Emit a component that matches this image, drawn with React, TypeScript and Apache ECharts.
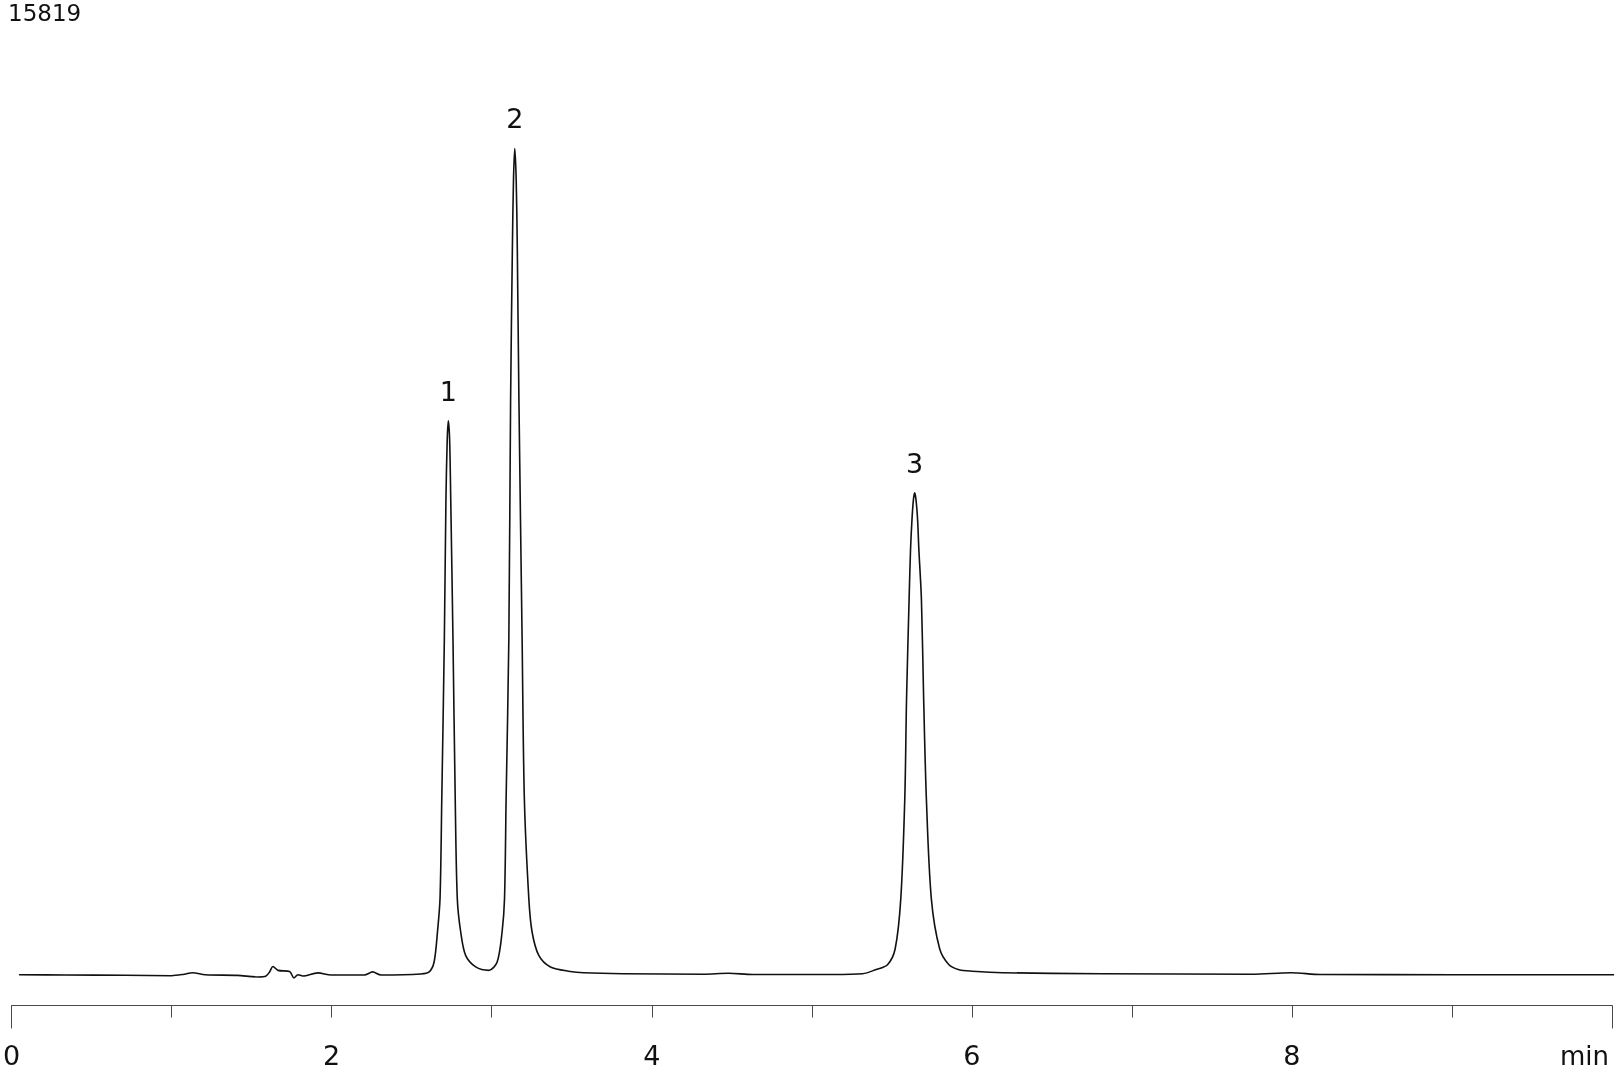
import React, { useRef, useEffect } from 'react';
import * as echarts from 'echarts';

// retention time (min) and detector signal
const times = [
  0.05, 0.34, 0.71, 1.0, 1.08, 1.13, 1.21, 1.41, 1.54, 1.59, 1.613, 1.633, 1.665, 1.737, 1.764, 1.789, 1.82, 1.913, 1.997,
  2.204, 2.256, 2.308, 2.557, 2.609, 2.64, 2.661, 2.677, 2.688, 2.704, 2.714, 2.722, 2.729, 2.737, 2.744, 2.758, 2.772,
  2.785, 2.806, 2.837, 2.9, 2.982, 3.034, 3.065, 3.08, 3.09, 3.107, 3.118, 3.129, 3.136, 3.144, 3.153, 3.16, 3.17, 3.19,
  3.204, 3.232, 3.252, 3.294, 3.367, 3.491, 3.574, 3.82, 4.32, 4.48, 4.63, 5.13, 5.318, 5.399, 5.473, 5.521, 5.556,
  5.581, 5.592, 5.608, 5.617, 5.626, 5.635, 5.643, 5.651, 5.661, 5.669, 5.685, 5.699, 5.716, 5.747, 5.799, 5.857, 5.92,
  6.003, 6.19, 6.81, 7.75, 7.995, 8.18, 9.0, 10.04,
];
const signal = [
  0, -5, -10, -16, 8, 32, 0, -11, -37, -21, 49, 134, 70, 53, -53, 0, -21, 29, -5,
  -5, 45, -5, 11, 45, 206, 692, 1231, 2851, 5443, 7711, 8683, 8991, 8683, 7711, 5443, 2851,
  1231, 697, 313, 126, 70, 206, 697, 1231, 2851, 5443, 9331, 11761, 12895, 13409, 12895, 11761, 9331, 5443,
  2851, 1231, 697, 313, 126, 53, 32, 16, 8, 24, 3, 3, 16, 81, 162, 421, 1231,
  2851, 4471, 6091, 6901, 7387, 7711, 7819, 7711, 7387, 6901, 6091, 4471, 2851, 1231, 421, 162, 81,
  57, 32, 16, 8, 32, 3, 0, 0,
];

const peakNames = ['1', '2', '3'];
const peakTimes = [2.729, 3.144, 5.643];
const peakHeights = [8991, 13409, 7819];

const signalMax = 15819;
const signalMin = -500;
const timeMax = 10;

const FONT = "'DejaVu Sans', Verdana, sans-serif";

const App: React.FC = () => {
  const chartRef = useRef<HTMLDivElement>(null);

  useEffect(() => {
    let chart: echarts.ECharts | null = null;
    if (chartRef.current) {
      chart = echarts.init(chartRef.current, undefined, { renderer: 'svg' });
      const axisColor = '#4a4a4a';
      const option: echarts.EChartsOption = {
        animation: false,
        title: {
          text: String(signalMax),
          left: 8,
          top: 1,
          padding: 0,
          textStyle: { fontSize: 23, fontWeight: 'normal', color: '#111', fontFamily: FONT },
        },
        grid: { left: 6, right: 6, top: 0, bottom: 62 },
        xAxis: [
          {
            type: 'value',
            min: 0,
            max: timeMax,
            interval: 1,
            splitLine: { show: false },
            axisLine: { onZero: false, lineStyle: { color: axisColor, width: 1 } },
            axisTick: { length: 12, lineStyle: { color: axisColor, width: 1 } },
            axisLabel: {
              margin: 39,
              fontSize: 27,
              lineHeight: 22,
              color: '#111',
              fontFamily: FONT,
              formatter: (v: number) => (v % 2 === 0 && v < timeMax ? String(v) : ''),
            },
            name: 'min',
            nameLocation: 'end',
            nameGap: -3,
            nameTextStyle: {
              fontSize: 26,
              lineHeight: 22,
              color: '#111',
              fontFamily: FONT,
              align: 'right',
              verticalAlign: 'top',
              padding: [39, 0, 0, 0],
            },
          },
          {
            // longer ticks at both ends of the time axis
            type: 'value',
            min: 0,
            max: timeMax,
            interval: timeMax,
            position: 'bottom',
            splitLine: { show: false },
            axisLine: { show: false, onZero: false },
            axisTick: { length: 23, lineStyle: { color: axisColor, width: 1 } },
            axisLabel: { show: false },
          },
        ],
        yAxis: { type: 'value', min: signalMin, max: signalMax, show: false },
        series: [
          {
            type: 'line',
            data: times.map((t, i) => [t, signal[i]]),
            showSymbol: false,
            smooth: 0.3,
            clip: false,
            lineStyle: { color: '#111', width: 1.6, join: 'round', cap: 'round' },
          },
          {
            type: 'scatter',
            data: peakTimes.map((t, i) => [t, peakHeights[i], peakNames[i]]),
            symbolSize: 0,
            itemStyle: { opacity: 1 },
            label: {
              show: true,
              position: 'top',
              distance: 16,
              fontSize: 27,
              color: '#111',
              opacity: 1,
              fontFamily: FONT,
              formatter: (p: any) => p.data[2],
            },
          },
        ],
      };
      chart.setOption(option);
    }
    return () => {
      if (chart) chart.dispose();
    };
  }, []);

  return <div ref={chartRef} style={{ position: 'fixed', left: 0, top: 0, width: 1618, height: 1069 }} />;
};

export default App;
